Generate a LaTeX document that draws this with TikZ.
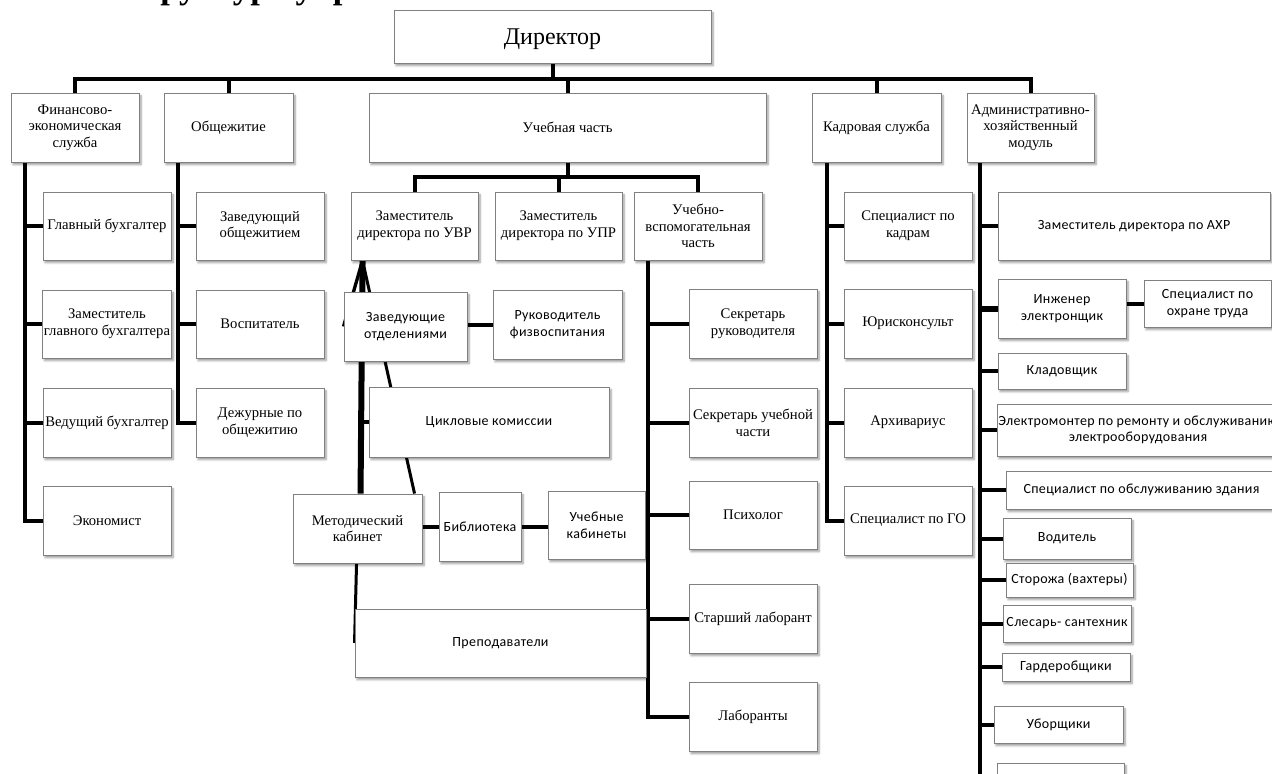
\documentclass[tikz,border=0pt]{standalone}
\usepackage{fontspec}
\setmainfont{Liberation Serif}
\newfontfamily\sansf[LetterSpace=2.5]{Carlito}
\usetikzlibrary{backgrounds,shadows.blur}
\tikzset{
  bx/.style={draw=black!50, line width=0.7pt, fill=white, inner sep=1pt, align=center,
    blur shadow={shadow xshift=1.5pt, shadow yshift=-2pt, shadow blur radius=1.5pt, shadow blur steps=6}},
  ser/.style={bx, font=\fontsize{11}{12.5}\selectfont},
  san/.style={bx, font=\sansf\fontsize{10.5}{12.5}\selectfont},
  big/.style={bx, font=\fontsize{18}{20}\selectfont},
  conn/.style={line width=3pt, line join=miter},
}
\newcommand\mybox[7]{\node[#7, minimum width={(#4-#2)*0.75pt}, minimum height={(#5-#3)*0.75pt}] (#1) at ({(#2+#4)/2},{(#3+#5)/2}) {#6};}
\begin{document}
\begin{tikzpicture}[x=0.75pt,y=-0.75pt]
\path[use as bounding box, clip] (0,0) rectangle (1272,774);
% partially visible title (cut by the top edge)
\node[font=\bfseries\fontsize{26}{26}\selectfont, anchor=base west, inner sep=0pt] (title) at (118,-1) {Структура управления};
% level 0/1
\mybox{dir}{394}{10}{711}{63}{\raisebox{-6pt}[0pt][0pt]{Директор}}{big}
\mybox{fin}{11}{93}{139}{162}{Финансово-\\экономическая\\служба}{ser}
\mybox{obs}{164}{93}{293}{162}{Общежитие}{ser}
\mybox{uch}{369}{93}{766}{162}{Учебная часть}{ser}
\mybox{kad}{812}{93}{941}{162}{Кадровая служба}{ser}
\mybox{adm}{967}{93}{1094}{162}{Административно-\\хозяйственный\\модуль}{ser}
% finance
\mybox{glb}{43}{192}{171}{260}{Главный бухгалтер}{ser}
\mybox{zgb}{43}{290}{171}{358}{Заместитель\\главного бухгалтера}{ser}
\mybox{vb}{43}{388}{171}{457}{Ведущий бухгалтер}{ser}
\mybox{ek}{43}{486}{171}{555}{Экономист}{ser}
% dormitory
\mybox{zob}{196}{192}{324}{260}{Заведующий\\общежитием}{ser}
\mybox{vos}{196}{290}{324}{358}{Воспитатель}{ser}
\mybox{dej}{196}{388}{324}{457}{Дежурные по\\общежитию}{ser}
% educational part
\mybox{uvr}{351}{192}{478}{260}{Заместитель\\директора по УВР}{ser}
\mybox{upr}{495}{192}{622}{260}{Заместитель\\директора по УПР}{ser}
\mybox{uvch}{634}{192}{762}{260}{Учебно-\\вспомогательная\\часть}{ser}
\mybox{zav}{344}{292}{467}{361}{Заведующие\\отделениями}{san}
\mybox{ruk}{493}{290}{622}{359}{Руководитель\\физвоспитания}{san}
\mybox{cik}{369}{387}{609}{457}{Цикловые комиссии}{san}
\mybox{met}{293}{494}{422}{563}{Методический\\кабинет}{ser}
\mybox{bib}{439}{492}{521}{561}{Библиотека}{san}
\mybox{ukab}{548}{491}{645}{559}{Учебные\\кабинеты}{san}
\mybox{prep}{355}{609}{646}{677}{Преподаватели}{san}
\mybox{sr}{689}{289}{817}{358}{Секретарь\\руководителя}{ser}
\mybox{su}{689}{388}{817}{457}{Секретарь учебной\\части}{ser}
\mybox{psy}{689}{481}{817}{549}{Психолог}{ser}
\mybox{sl}{689}{584}{817}{653}{Старший лаборант}{ser}
\mybox{lab}{689}{682}{817}{751}{Лаборанты}{ser}
% HR
\mybox{sk}{844}{192}{972}{260}{Специалист по\\кадрам}{ser}
\mybox{jur}{844}{289}{972}{358}{Юрисконсульт}{ser}
\mybox{arh}{844}{388}{972}{457}{Архивариус}{ser}
\mybox{sgo}{844}{486}{972}{555}{Специалист по ГО}{ser}
% admin
\mybox{zahr}{998}{192}{1270}{260}{Заместитель директора по АХР}{san}
\mybox{ing}{998}{279}{1126}{338}{Инженер\\электронщик}{san}
\mybox{sot}{1144}{280}{1271}{327}{Специалист по\\охране труда}{san}
\mybox{klad}{998}{353}{1126}{389}{Кладовщик}{san}
\mybox{elm}{997}{404}{1279}{456}{Электромонтер по ремонту и обслуживанию\\электрооборудования}{san}
\mybox{soz}{1006}{471}{1277}{509}{Специалист по обслуживанию здания}{san}
\mybox{vod}{1003}{518}{1131}{559}{Водитель}{san}
\mybox{stor}{1006}{563}{1133}{597}{Сторожа (вахтеры)}{san}
\mybox{sles}{1003}{605}{1131}{642}{Слесарь- сантехник}{san}
\mybox{gard}{1002}{653}{1130}{681}{Гардеробщики}{san}
\mybox{ub}{994}{706}{1123}{743}{Уборщики}{san}
\mybox{extra}{997}{763}{1124}{800}{}{san}
% connectors
\begin{pgfonlayer}{background}
\coordinate (bus) at (553,79);
\draw[conn] (fin.north) |- (bus) -| (adm.north);
\draw[conn] (dir.south) -- (dir.south |- bus);
\draw[conn] (obs.north) -- (obs.north |- bus);
\draw[conn] (uch.north) -- (uch.north |- bus);
\draw[conn] (kad.north) -- (kad.north |- bus);
\coordinate (bus2) at (567.5,177);
\draw[conn] (uvr.north) |- (bus2) -| (uvch.north);
\draw[conn] (uch.south) -- (uch.south |- bus2);
\draw[conn] (upr.north) -- (upr.north |- bus2);
% side spines
\coordinate (finx) at (25,0);
\draw[conn] (fin.south -| finx) |- (ek.west);
\foreach \n in {glb,zgb,vb} \draw[conn] (\n.west) -- (\n.west -| finx);
\coordinate (obsx) at (178,0);
\draw[conn] (obs.south -| obsx) |- (dej.west);
\foreach \n in {zob,vos} \draw[conn] (\n.west) -- (\n.west -| obsx);
\coordinate (uvchx) at (648,0);
\draw[conn] (uvch.south -| uvchx) |- (lab.west);
\foreach \n in {sr,su,psy,sl} \draw[conn] (\n.west) -- (\n.west -| uvchx);
\coordinate (kadx) at (827,0);
\draw[conn] (kad.south -| kadx) |- (sgo.west);
\foreach \n in {sk,jur,arh} \draw[conn] (\n.west) -- (\n.west -| kadx);
\coordinate (admx) at (980,0);
\draw[conn] (adm.south -| admx) |- (extra.west);
\foreach \n in {zahr,klad,elm,soz,vod,stor,sles,gard,ub} \draw[conn] (\n.west) -- (\n.west -| admx);
\draw[conn, line width=4.5pt] (ing.west) -- (ing.west -| admx);
\draw[conn] (sot.west) -- (sot.west -| ing.east);
\draw[conn] (ruk.west) -- (ruk.west -| zav.east);
\draw[conn] (bib.west) -- (bib.west -| met.east);
\draw[conn] (bib.east) -- (bib.east -| ukab.west);
% lines under the deputy for educational work
\coordinate (apex) at ([xshift=9pt]uvr.south west);
\draw[line width=4.5pt] (apex) -- ([xshift=51pt]met.north west);
\draw[line width=2.25pt] (apex) -- ([xshift=91.5pt]met.north west);
\draw[line width=2.5pt] (apex) -- (zav.west);
\draw[line width=2.5pt] (cik.west) -- (cik.west -| apex);
\draw[line width=2.25pt] ([xshift=48pt]met.south west) -- (prep.west);
\end{pgfonlayer}
\end{tikzpicture}
\end{document}
